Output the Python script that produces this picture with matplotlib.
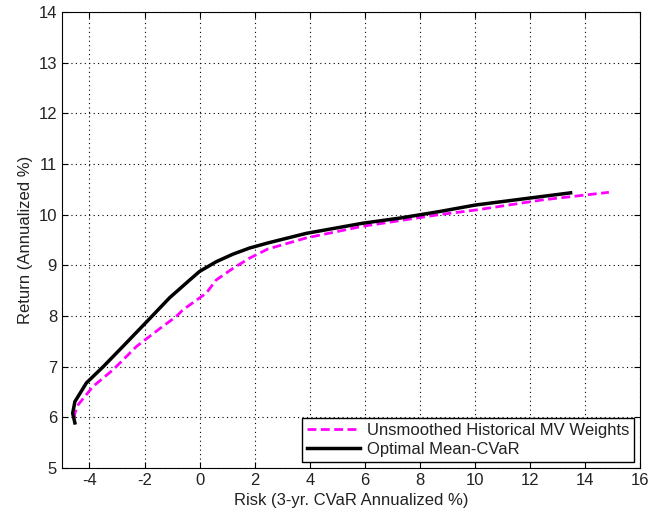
import matplotlib
matplotlib.use("Agg")
import matplotlib.pyplot as plt

plt.rcParams['font.family'] = ['Liberation Sans', 'DejaVu Sans']
plt.rcParams['axes.unicode_minus'] = False

# Optimal Mean-CVaR frontier
cvar_risk = [-4.53, -4.61, -4.53, -4.11, -3.50, -2.66, -1.81, -1.09, -0.36, 0.0,
             0.6, 1.21, 1.81, 2.47, 3.87, 5.92, 7.25, 8.70, 10.02, 13.47]
cvar_ret = [5.89, 6.08, 6.31, 6.68, 7.0, 7.47, 7.95, 8.36, 8.71, 8.88,
            9.07, 9.22, 9.34, 9.44, 9.63, 9.83, 9.93, 10.06, 10.19, 10.43]

# Unsmoothed historical MV weights
mv_risk = [-4.55, -4.53, -4.41, -3.87, -3.14, -2.29, -1.45, -0.85, -0.61, 0.24,
           0.6, 1.21, 1.81, 2.47, 3.87, 5.92, 7.25, 8.70, 10.02, 12.44, 14.86]
mv_ret = [5.98, 6.08, 6.25, 6.61, 6.94, 7.40, 7.75, 7.99, 8.12, 8.45,
          8.71, 8.94, 9.14, 9.32, 9.54, 9.77, 9.88, 10.0, 10.09, 10.29, 10.44]

xticks = [-4, -2, 0, 2, 4, 6, 8, 10, 12, 14, 16]
yticks = [5, 6, 7, 8, 9, 10, 11, 12, 13, 14]

fig = plt.figure(figsize=(6.52, 5.18), dpi=100)
ax = fig.add_axes([0.095, 0.0965, 0.887, 0.8805])

ax.plot(mv_risk, mv_ret, linestyle=(0, (3.2, 1.6)), color='#FF00FF', lw=2,
        label='Unsmoothed Historical MV Weights', zorder=3)
ax.plot(cvar_risk, cvar_ret, '-', color='black', lw=2.5,
        label='Optimal Mean-CVaR', zorder=4)

ax.set_xlim(-5, 16)
ax.set_ylim(5, 14)
ax.set_xticks(xticks)
ax.set_yticks(yticks)
ax.tick_params(direction='in', labelsize=12, length=4, top=True, right=True,
               labelcolor='#222222')
ax.grid(True, linestyle=(0, (1, 3)), color='black', lw=0.8)
ax.set_xlabel('Risk (3-yr. CVaR Annualized %)', fontsize=12, color='#222222')
ax.set_ylabel('Return (Annualized %)', fontsize=12, color='#222222')

leg = ax.legend(loc='lower right', fontsize=12, fancybox=False, framealpha=1,
                edgecolor='black', borderaxespad=0.35, handlelength=3.2,
                borderpad=0.3, labelspacing=0.25, handletextpad=0.4)
leg.get_frame().set_linewidth(1.0)
for t in leg.get_texts():
    t.set_color('#222222')

fig.savefig('out.png', dpi=100)
